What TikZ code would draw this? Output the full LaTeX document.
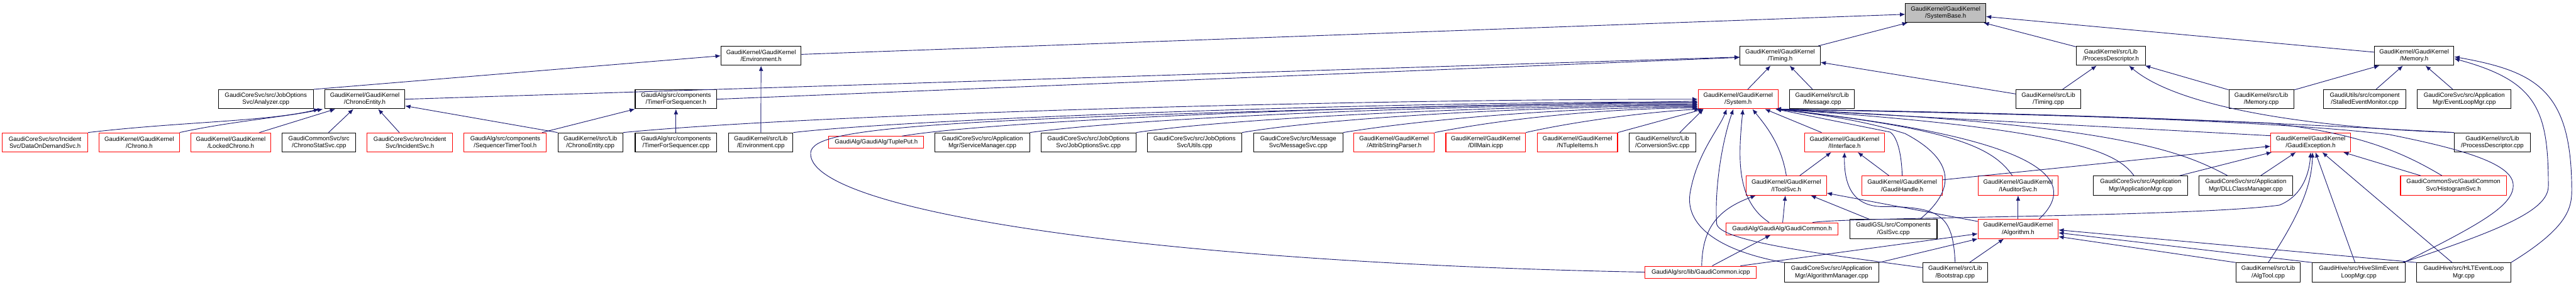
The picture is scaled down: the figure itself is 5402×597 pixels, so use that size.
\documentclass[tikz,border=0pt]{standalone}
\usepackage{fontspec}
\setmainfont{Liberation Sans}
\usetikzlibrary{arrows.meta}
\definecolor{edgec}{HTML}{191970}
\definecolor{redb}{HTML}{FF0000}
\definecolor{sbfill}{HTML}{BFBFBF}
\begin{document}
\begin{tikzpicture}[x=0.5pt,y=-0.5pt,
  nd/.style={draw=black, line width=0.7pt, fill=white, align=center, inner sep=1pt,
    minimum height=20pt, font=\fontsize{6.4pt}{7.5pt}\selectfont},
  rd/.style={nd, draw=redb},
  w/.style={minimum width=#1*0.5pt},
  one/.style={minimum height=12.5pt},
  e/.style={draw=edgec, line width=0.6pt, -{Latex[length=5.5pt,width=4.5pt]}},
]
\useasboundingbox (0,0) rectangle (5402,597);
% row 0
\node[nd, fill=sbfill, w=168] (sb) at (4080,27) {GaudiKernel/GaudiKernel\\/SystemBase.h};
% row 1
\node[nd, w=168] (envh) at (1596,117) {GaudiKernel/GaudiKernel\\/Environment.h};
\node[nd, w=168] (timh) at (3733,117) {GaudiKernel/GaudiKernel\\/Timing.h};
\node[nd, w=145] (pdh) at (4426.5,117) {GaudiKernel/src/Lib\\/ProcessDescriptor.h};
\node[nd, w=167] (memh) at (5062.5,117) {GaudiKernel/GaudiKernel\\/Memory.h};
% row 2
\node[nd, w=199] (ana) at (557.5,208) {GaudiCoreSvc/src/JobOptions\\Svc/Analyzer.cpp};
\node[nd, w=168] (ceh) at (765,208) {GaudiKernel/GaudiKernel\\/ChronoEntity.h};
\node[nd, w=171] (tfsh) at (1417.5,208) {GaudiAlg/src/components\\/TimerForSequencer.h};
\node[rd, w=168] (sysh) at (3645,208) {GaudiKernel/GaudiKernel\\/System.h};
\node[nd, w=136] (msgcpp) at (3821,208) {GaudiKernel/src/Lib\\/Message.cpp};
\node[nd, w=135] (timcpp) at (4295.5,208) {GaudiKernel/src/Lib\\/Timing.cpp};
\node[nd, w=136] (memcpp) at (4742,208) {GaudiKernel/src/Lib\\/Memory.cpp};
\node[nd, w=172] (stall) at (4959,208) {GaudiUtils/src/component\\/StalledEventMonitor.cpp};
\node[nd, w=197] (elm) at (5167.5,208) {GaudiCoreSvc/src/Application\\Mgr/EventLoopMgr.cpp};
% row 3
\node[rd, w=179] (dod) at (94.5,298.5) {GaudiCoreSvc/src/Incident\\Svc/DataOnDemandSvc.h};
\node[rd, w=168] (chrono) at (292,298.5) {GaudiKernel/GaudiKernel\\/Chrono.h};
\node[rd, w=168] (lchrono) at (484,298.5) {GaudiKernel/GaudiKernel\\/LockedChrono.h};
\node[nd, w=154] (css) at (669,298.5) {GaudiCommonSvc/src\\/ChronoStatSvc.cpp};
\node[rd, w=179] (inc) at (859.5,298.5) {GaudiCoreSvc/src/Incident\\Svc/IncidentSvc.h};
\node[rd, w=173] (stt) at (1059.5,298.5) {GaudiAlg/src/components\\/SequencerTimerTool.h};
\node[nd, w=136] (cecpp) at (1238,298.5) {GaudiKernel/src/Lib\\/ChronoEntity.cpp};
\node[nd, w=171] (tfscpp) at (1417.5,298.5) {GaudiAlg/src/components\\/TimerForSequencer.cpp};
\node[nd, w=135] (envcpp) at (1595.5,298.5) {GaudiKernel/src/Lib\\/Environment.cpp};
\node[rd, w=199, one] (tuple) at (1837.5,298.5) {GaudiAlg/GaudiAlg/TuplePut.h};
\node[nd, w=198] (sm) at (2060,298.5) {GaudiCoreSvc/src/Application\\Mgr/ServiceManager.cpp};
\node[nd, w=199] (jos) at (2282.5,298.5) {GaudiCoreSvc/src/JobOptions\\Svc/JobOptionsSvc.cpp};
\node[nd, w=198] (utils) at (2505,298.5) {GaudiCoreSvc/src/JobOptions\\Svc/Utils.cpp};
\node[nd, w=187] (msgsvc) at (2722.5,298.5) {GaudiCoreSvc/src/Message\\Svc/MessageSvc.cpp};
\node[rd, w=169] (asp) at (2923.5,298.5) {GaudiKernel/GaudiKernel\\/AttribStringParser.h};
\node[rd, w=167] (dll) at (3115.5,298.5) {GaudiKernel/GaudiKernel\\/DllMain.icpp};
\node[rd, w=168] (nti) at (3308,298.5) {GaudiKernel/GaudiKernel\\/NTupleItems.h};
\node[nd, w=140] (conv) at (3486,298.5) {GaudiKernel/src/Lib\\/ConversionSvc.cpp};
\node[rd, w=168] (iint) at (3868,298.5) {GaudiKernel/GaudiKernel\\/IInterface.h};
\node[rd, w=167] (gex) at (4845.5,298.5) {GaudiKernel/GaudiKernel\\/GaudiException.h};
\node[nd, w=159] (pdcpp) at (5226.5,298.5) {GaudiKernel/src/Lib\\/ProcessDescriptor.cpp};
% row 4
\node[rd, w=168] (itool) at (3746,389) {GaudiKernel/GaudiKernel\\/IToolSvc.h};
\node[rd, w=168] (ghandle) at (3989,389) {GaudiKernel/GaudiKernel\\/GaudiHandle.h};
\node[rd, w=168] (iaud) at (4232,389) {GaudiKernel/GaudiKernel\\/IAuditorSvc.h};
\node[nd, w=198] (appmgr) at (4489,389) {GaudiCoreSvc/src/Application\\Mgr/ApplicationMgr.cpp};
\node[nd, w=197] (dllcm) at (4709.5,389) {GaudiCoreSvc/src/Application\\Mgr/DLLClassManager.cpp};
\node[rd, w=222] (hist) at (5145,389) {GaudiCommonSvc/GaudiCommon\\Svc/HistogramSvc.h};
% row 5
\node[rd, w=234, one] (gch) at (3737,479.5) {GaudiAlg/GaudiAlg/GaudiCommon.h};
\node[nd, w=183] (gsl) at (3970.5,480) {GaudiGSL/src/Components\\/GslSvc.cpp};
\node[rd, w=168] (algh) at (4232,480) {GaudiKernel/GaudiKernel\\/Algorithm.h};
% row 6
\node[rd, w=233, one] (gcicpp) at (3566.5,570.5) {GaudiAlg/src/lib/GaudiCommon.icpp};
\node[nd, w=198] (algmgr) at (3841,571) {GaudiCoreSvc/src/Application\\Mgr/AlgorithmManager.cpp};
\node[nd, w=136] (boot) at (4100,571) {GaudiKernel/src/Lib\\/Bootstrap.cpp};
\node[nd, w=135] (algtool) at (4756.5,571) {GaudiKernel/src/Lib\\/AlgTool.cpp};
\node[nd, w=195] (hive) at (4946.5,571) {GaudiHive/src/HiveSlimEvent\\LoopMgr.cpp};
\node[nd, w=197] (hlt) at (5166.5,571) {GaudiHive/src/HLTEventLoop\\Mgr.cpp};

% ---- edges
\draw[e] (envh) -- (sb);
\draw[e] (timh) -- (sb);
\draw[e] (pdh) -- (sb);
\draw[e] (memh) -- (sb);
\draw[e] (ana.north east) -- (envh.west);
\draw[e] (envcpp) -- (envh);
\draw[e] (ceh.east) -- (timh);
\draw[e] (tfsh.east) -- (timh);
\draw[e] (sysh) -- (timh);
\draw[e] (msgcpp) -- (timh);
\draw[e] (timcpp) -- (timh);
\draw[e] (timcpp) -- (pdh);
\draw[e] (memcpp) -- (pdh);
\draw[e] (memcpp) -- (memh);
\draw[e] (stall) -- (memh);
\draw[e] (elm) -- (memh);
% ChronoEntity.h
\draw[e] (dod.north east) .. controls (380,255) and (560,255) .. ([xshift=-48pt]ceh.south);
\draw[e] (chrono.north east) .. controls (480,255) and (600,245) .. ([xshift=-44pt]ceh.south);
\draw[e] ([xshift=30pt]lchrono.north) -- ([xshift=-31pt]ceh.south);
\draw[e] ([xshift=10pt]css.north) -- ([xshift=-12pt]ceh.south);
\draw[e] ([xshift=-11pt]inc.north) -- ([xshift=14pt]ceh.south);
\draw[e] (cecpp.north west) -- ([yshift=-7pt]ceh.east);
% TimerForSequencer.h
\draw[e] ([xshift=-5pt]stt.north east) -- (tfsh.south west);
\draw[e] (tfscpp) -- (tfsh);
% System.h from the left
\draw[e] (cecpp.north east) .. controls (1700,240) and (2800,208) .. (sysh.west);
\draw[e] (envcpp.north east) .. controls (1900,250) and (2900,212) .. ([yshift=-3pt]sysh.west);
\draw[e] ([xshift=27pt]tuple.north) .. controls (2100,250) and (3000,215) .. ([yshift=-4pt]sysh.west);
\draw[e] (sm.north east) .. controls (2400,245) and (3100,218) .. ([yshift=-5pt]sysh.west);
\draw[e] (jos.north east) .. controls (2600,245) and (3200,220) .. ([yshift=-6pt]sysh.west);
\draw[e] (utils.north east) .. controls (2800,245) and (3250,222) .. ([yshift=-7pt]sysh.west);
\draw[e] (msgsvc.north east) .. controls (3000,248) and (3300,225) .. ([yshift=-8pt]sysh.west);
\draw[e] (asp.north east) .. controls (3150,250) and (3350,228) .. ([yshift=-9pt]sysh.west);
\draw[e] (dll.north east) .. controls (3300,255) and (3450,235) .. ([xshift=2pt]sysh.south west);
\draw[e] (nti.north east) -- ([xshift=6pt]sysh.south west);
\draw[e] ([xshift=-17pt]conv.north east) -- ([xshift=6pt]sysh.south west);
\draw[e] (gcicpp.west) .. controls (2400,550) and (1690,440) .. (1700,320)
   .. controls (1705,265) and (1950,245) .. ([yshift=-2pt]sysh.west);
% System.h from below
\draw[e] (algmgr.north west) .. controls (3600,525) and (3530,470) .. (3545,400)
   .. controls (3560,320) and (3605,270) .. ([xshift=-12pt]sysh.south);
\draw[e] ([yshift=5pt]boot.west) .. controls (3800,530) and (3610,505) .. (3600,470)
   .. controls (3595,400) and (3610,300) .. ([xshift=-5pt]sysh.south);
\draw[e] ([xshift=-13.5pt]gch.north) .. controls (3640,420) and (3645,330) .. ([xshift=5pt]sysh.south);
\draw[e] (itool.north) .. controls (3735,300) and (3700,260) .. ([xshift=15pt]sysh.south);
\draw[e] ([xshift=-24pt]iint.north) -- ([xshift=28pt]sysh.south);
\draw[e] (ghandle.north) .. controls (3987,310) and (3975,285) .. (3964,277) -- ([xshift=-3pt]sysh.south east);
\draw[e] ([xshift=28pt]gsl.north) .. controls (4110,390) and (4090,330) .. (3995,280)
   .. controls (3900,250) and (3800,238) .. ([xshift=-3pt]sysh.south east);
\draw[e] ([xshift=-6pt]iaud.north) .. controls (4180,310) and (4100,270) .. ([xshift=-3pt]sysh.south east);
\draw[e] ([xshift=22pt]algh.north) .. controls (4360,380) and (4300,290) .. ([xshift=-3pt]sysh.south east);
\draw[e] ([xshift=-7pt]appmgr.north) .. controls (4440,320) and (4350,270) .. ([xshift=-3pt]sysh.south east);
\draw[e] ([xshift=-19pt]dllcm.north) .. controls (4580,320) and (4450,260) .. ([xshift=-3pt]sysh.south east);
\draw[e] ([yshift=7pt]gex.west) -- ([xshift=-3pt]sysh.south east);
\draw[e] (pdcpp.north west) .. controls (4950,268) and (4500,240) .. ([xshift=-3pt]sysh.south east);
\draw[e] ([xshift=-12pt]hist.north) .. controls (5040,320) and (4950,280) .. (4760,258)
   .. controls (4300,238) and (3900,232) .. ([xshift=-3pt]sysh.south east);
\draw[e] ([xshift=-2pt]hive.north east) .. controls (5200,470) and (5275,430) .. (5270,385)
   .. controls (5265,340) and (5150,310) .. (5010,282)
   .. controls (4700,245) and (4000,235) .. ([xshift=-3pt]sysh.south east);
% IToolSvc / IInterface
\draw[e] (itool) -- (iint);
\draw[e] (ghandle) -- (iint);
\draw[e] (boot.north) .. controls (4095,450) and (4070,433) .. (3943,433)
   .. controls (3880,430) and (3867,380) .. (iint.south);
\draw[e] (gch) -- (itool);
\draw[e] (gsl) -- (itool);
\draw[e] (algh) -- (itool);
\draw[e] ([xshift=1pt]gcicpp.north) .. controls (3570,480) and (3600,440) .. ([xshift=-32pt]itool.south);
\draw[e] ([xshift=12pt]gcicpp.north) -- ([xshift=-12pt]gch.south);
% Algorithm.h
\draw[e] (algh) -- (iaud);
\draw[e] ([xshift=-17pt]gcicpp.north east) -- ([yshift=-5pt]algh.west);
\draw[e] (algmgr.north east) -- (algh.south west);
\draw[e] (boot) -- (algh);
\draw[e] (algtool.north west) -- ([yshift=-8pt]algh.east);
\draw[e] (hive.north west) -- ([yshift=-4pt]algh.east);
\draw[e] (hlt.north west) -- ([yshift=-1pt]algh.east);
% GaudiException.h
\draw[e] ([yshift=6pt]ghandle.east) -- ([yshift=-4pt]gex.west);
\draw[e] ([xshift=32pt]gch.north) .. controls (3870,455) and (4600,455) .. (4780,430)
   .. controls (4830,410) and (4843,360) .. (gex.south);
\draw[e] (appmgr) -- (gex);
\draw[e] (dllcm) -- (gex);
\draw[e] (hist) -- (gex);
\draw[e] (algtool.north) .. controls (4830,440) and (4848,380) .. ([xshift=2pt]gex.south);
\draw[e] ([xshift=-4pt]hive.north) -- ([xshift=5pt]gex.south);
\draw[e] (hlt) -- (gex);
% ProcessDescriptor.h / Memory.h long curves
\draw[e] (pdcpp.north west) .. controls (4900,270) and (4580,235) .. ([xshift=19pt]pdh.south);
\draw[e] ([xshift=-3pt]hive.north east) .. controls (5250,480) and (5344,440) .. (5344,390)
   .. controls (5344,230) and (5320,170) .. ([yshift=-3pt]memh.east);
\draw[e] (hlt.north east) .. controls (5380,480) and (5393,440) .. (5393,400)
   .. controls (5393,190) and (5320,150) .. ([yshift=-1pt]memh.east);
\end{tikzpicture}
\end{document}
